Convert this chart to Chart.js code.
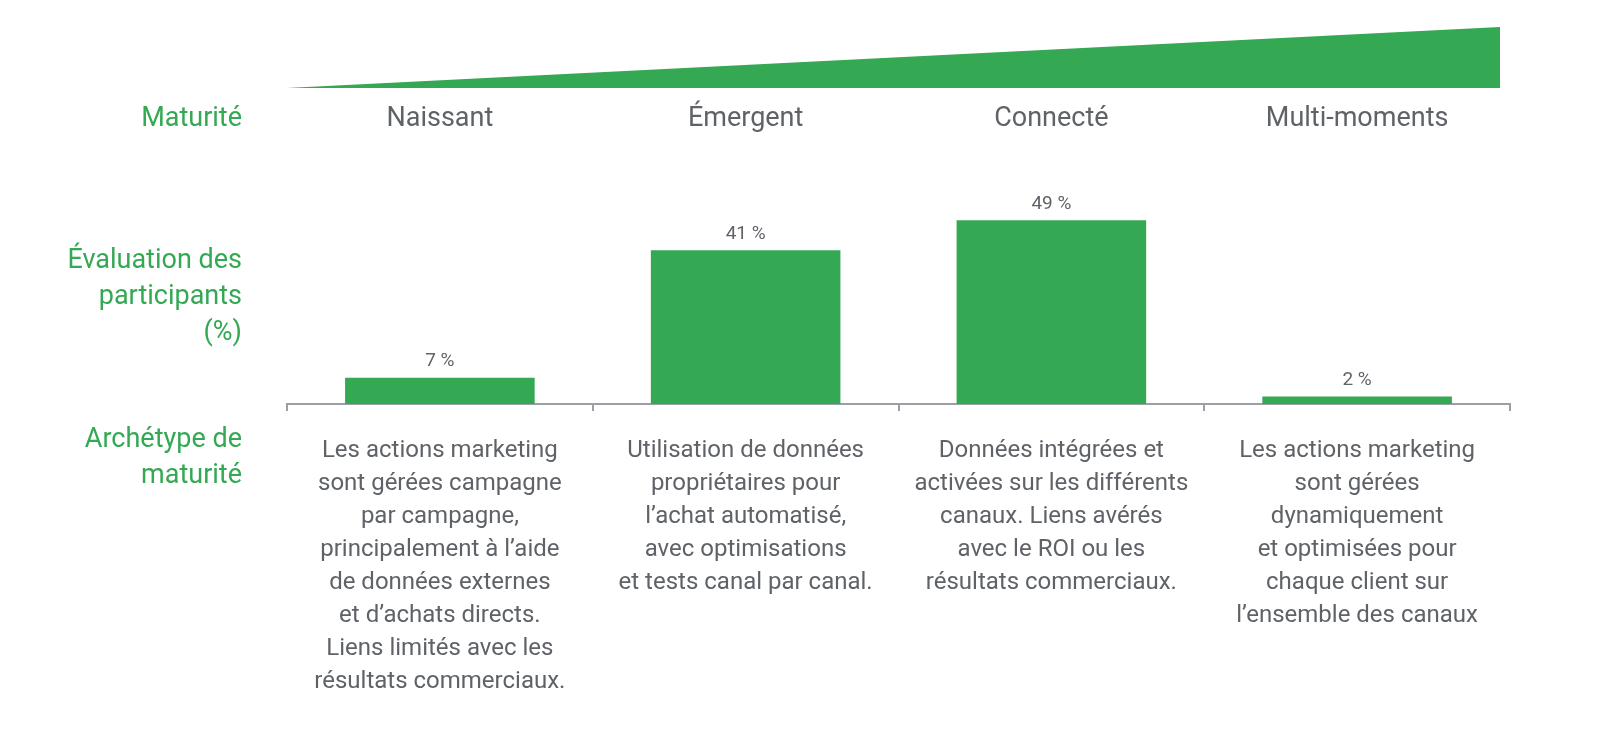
<!DOCTYPE html>
<html><head><meta charset="utf-8">
<script src="https://cdn.jsdelivr.net/npm/chart.js@4"></script>
<style>html,body{margin:0;background:#fff;overflow:hidden}canvas{display:block}</style>
</head><body><canvas id="c" width="1600" height="739"></canvas>
<script>
var categories = ['Naissant', 'Émergent', 'Connecté', 'Multi-moments'];
var values = [7, 41, 49, 2];
var rowLabels = [['Maturité'], ['Évaluation des', 'participants', '(%)'], ['Archétype de', 'maturité']];
var descriptions = [
  ['Les actions marketing', 'sont gérées campagne', 'par campagne,', 'principalement à l’aide', 'de données externes', 'et d’achats directs.', 'Liens limités avec les', 'résultats commerciaux.'],
  ['Utilisation de données', 'propriétaires pour', 'l’achat automatisé,', 'avec optimisations', 'et tests canal par canal.'],
  ['Données intégrées et', 'activées sur les différents', 'canaux. Liens avérés', 'avec le ROI ou les', 'résultats commerciaux.'],
  ['Les actions marketing', 'sont gérées', 'dynamiquement', 'et optimisées pour', 'chaque client sur', 'l’ensemble des canaux']
];
var GREEN = '#34a853', GREY = '#5f6368', FONT = 'Roboto, "Noto Sans", sans-serif';

var textPlugin = {
  id: 'texts',
  afterDraw: function (chart) {
    var ctx = chart.ctx, x = chart.scales.x, y = chart.scales.y, a = chart.chartArea;
    ctx.save();
    // wedge
    ctx.fillStyle = GREEN;
    ctx.beginPath();
    ctx.moveTo(a.left, 88); ctx.lineTo(1500, 27); ctx.lineTo(1500, 88); ctx.closePath(); ctx.fill();
    // left row labels
    ctx.fillStyle = GREEN; ctx.font = '27px ' + FONT; ctx.textAlign = 'right'; ctx.textBaseline = 'middle';
    rowLabels[0].forEach(function (s, i) { ctx.fillText(s, 242, 119 + i * 36); });
    rowLabels[1].forEach(function (s, i) { ctx.fillText(s, 242, 261 + i * 36); });
    rowLabels[2].forEach(function (s, i) { ctx.fillText(s, 242, 440 + i * 36); });
    // category names
    ctx.fillStyle = GREY; ctx.textAlign = 'center';
    categories.forEach(function (c, i) { ctx.fillText(c, x.getPixelForValue(i), 119); });
    // descriptions
    ctx.font = '24px ' + FONT;
    descriptions.forEach(function (lines, i) {
      lines.forEach(function (s, j) { ctx.fillText(s, x.getPixelForValue(i), 451 + j * 33); });
    });
    // value labels
    ctx.font = '19px ' + FONT; ctx.textBaseline = 'bottom';
    values.forEach(function (v, i) { ctx.fillText(v + ' %', x.getPixelForValue(i), y.getPixelForValue(v) - 7); });
    ctx.restore();
  }
};

new Chart(document.getElementById('c'), {
  type: 'bar',
  data: { labels: categories, datasets: [{ data: values, backgroundColor: GREEN, barPercentage: 0.62, categoryPercentage: 1 }] },
  options: {
    responsive: false, animation: false, devicePixelRatio: 1,
    layout: { padding: { left: 287, right: 90, top: 179, bottom: 328 } },
    plugins: { legend: { display: false }, tooltip: { enabled: false } },
    scales: {
      x: {
        offset: true,
        grid: { offset: true, drawOnChartArea: false, drawTicks: true, tickLength: 7, color: '#9aa0a6', lineWidth: 2 },
        border: { color: '#9aa0a6', width: 2 },
        ticks: { display: false }
      },
      y: { display: false, min: 0, max: 60 }
    }
  },
  plugins: [textPlugin]
});
</script></body></html>
